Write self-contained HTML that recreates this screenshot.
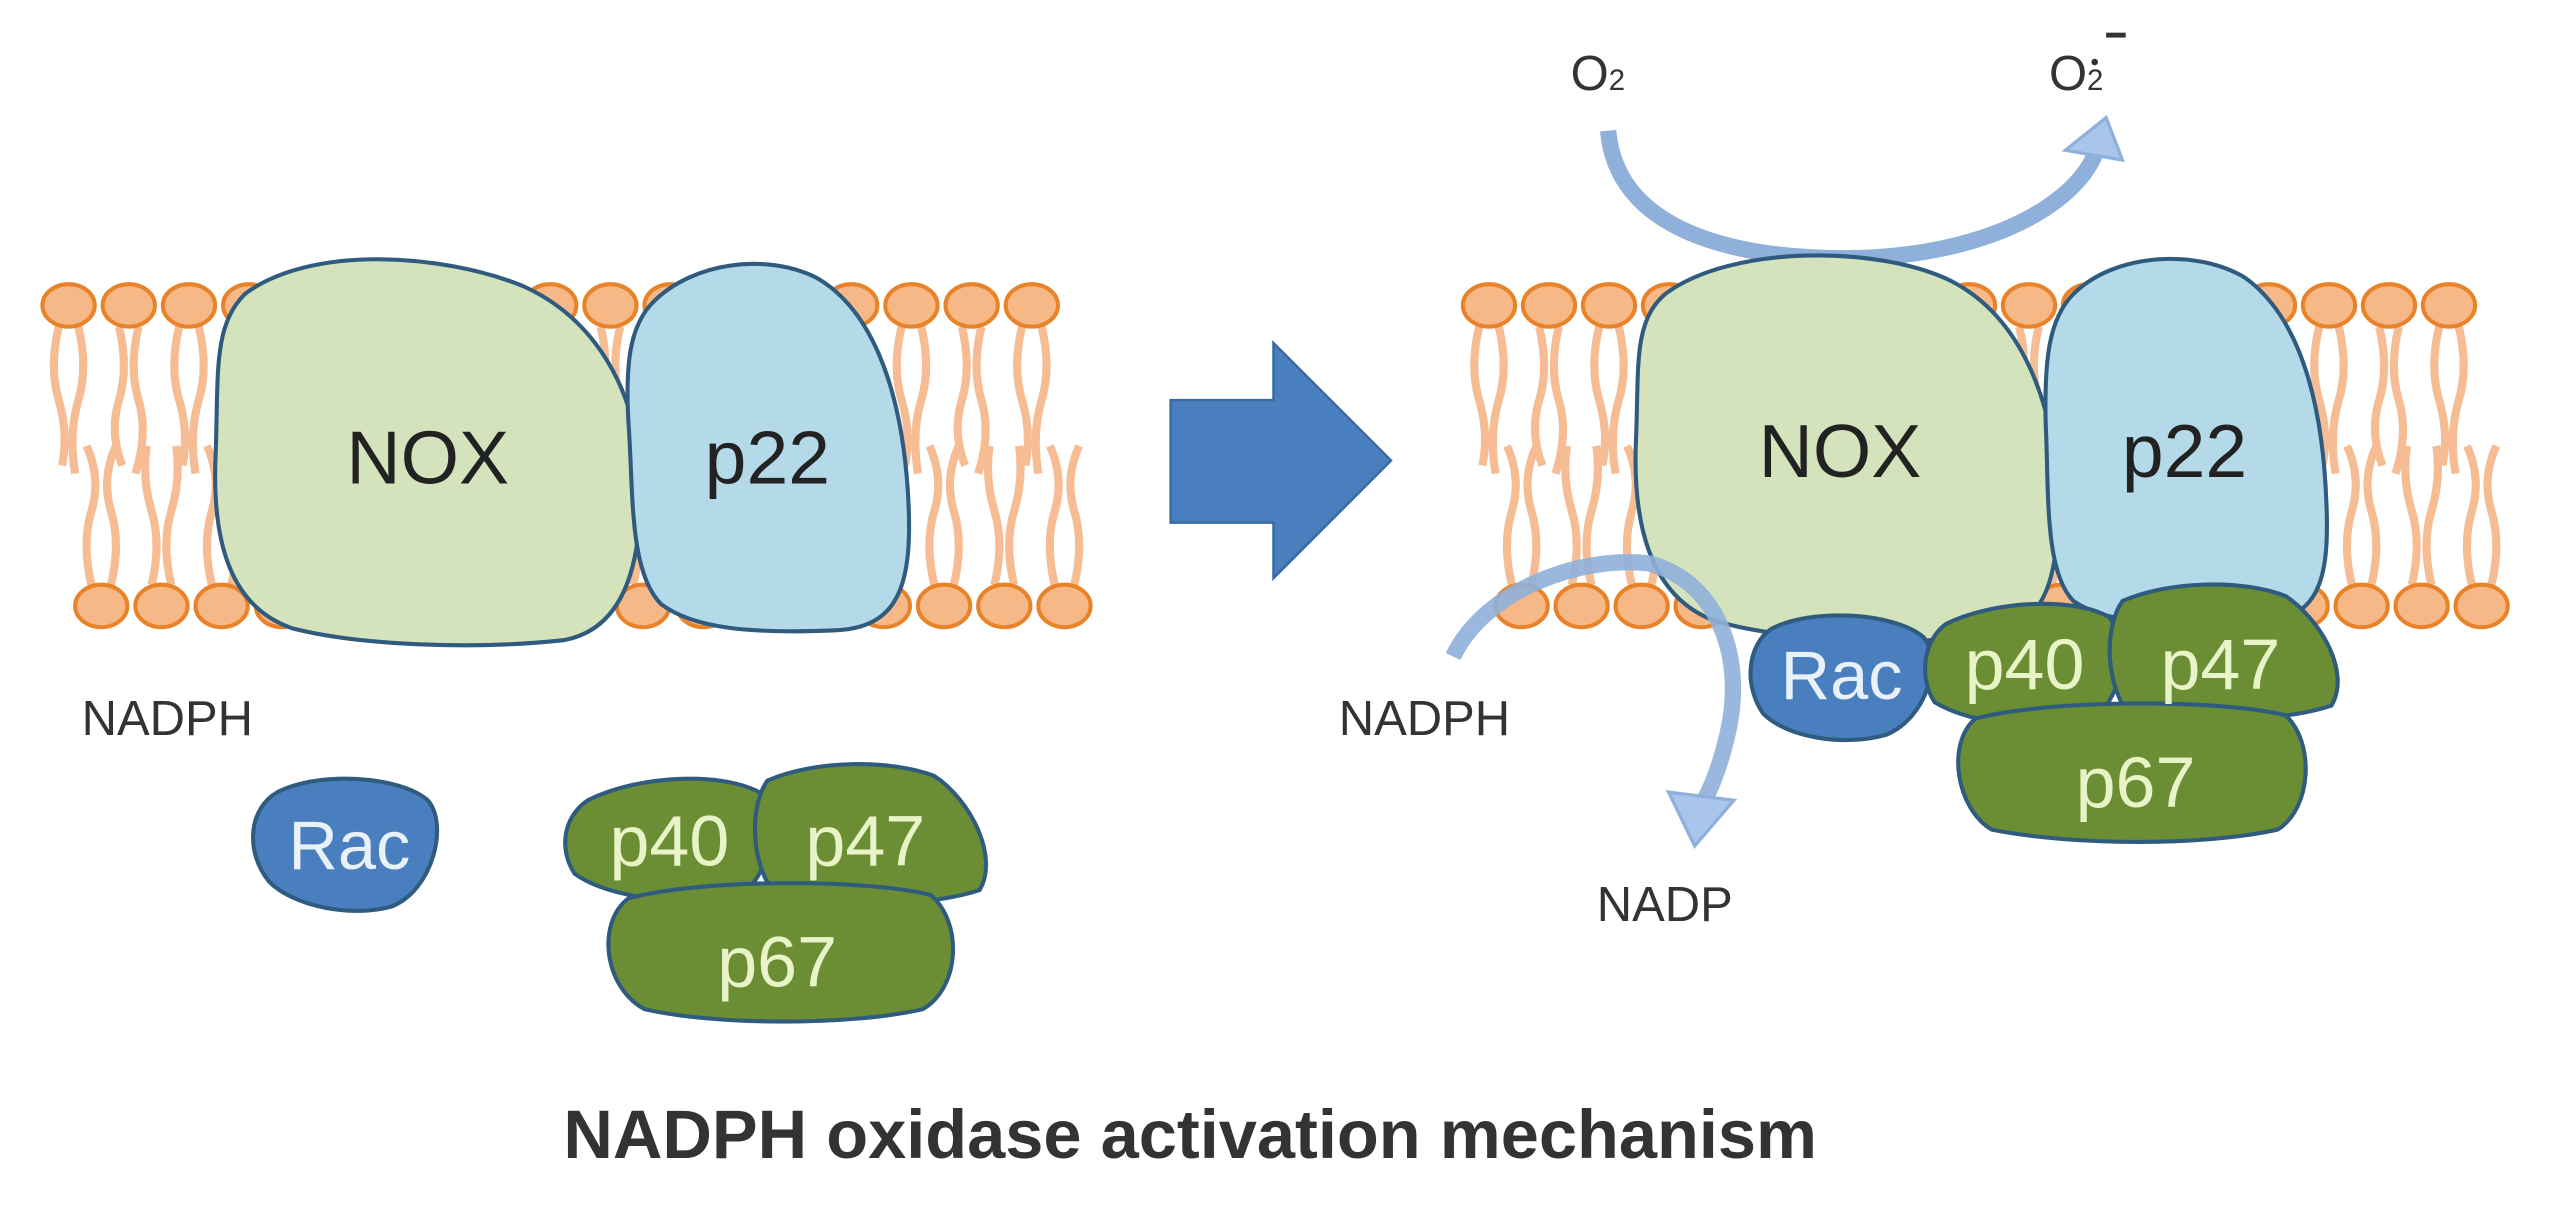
<!DOCTYPE html>
<html><head><meta charset="utf-8"><style>
html,body{margin:0;padding:0;background:#fff;}
svg{display:block;}
text{font-family:"Liberation Sans",sans-serif;}
</style></head><body>
<svg id="s" width="2560" height="1220" viewBox="0 0 1568 747" preserveAspectRatio="none" xmlns="http://www.w3.org/2000/svg">
<rect width="1568" height="747" fill="#fff"/>
<g id="mem"></g>

<!-- Left proteins -->
<path d="M150,180 C190,150 270,155 320,175 C365,195 390,240 392,290 C394,340 385,385 345,392 C290,398 220,395 180,385 C140,372 130,330 132,280 C134,230 130,200 150,180 Z" fill="#d5e3bd" stroke="#2f5b7e" stroke-width="2.5"/>
<path d="M400,185 C425,160 470,155 500,170 C535,190 552,240 556,300 C560,360 550,385 510,386 C460,388 425,385 405,370 C385,350 388,300 385,260 C383,225 385,200 400,185 Z" fill="#b4d9e8" stroke="#2f5b7e" stroke-width="2.5"/>
<text x="262" y="296" font-size="46" text-anchor="middle" fill="#222">NOX</text>
<text x="470" y="296" font-size="46" text-anchor="middle" fill="#222">p22</text>
<text x="50" y="450" font-size="30" fill="#333">NADPH</text>

<path d="M170,485 C195,472 245,475 262,490 C275,505 265,545 240,555 C215,562 180,555 165,540 C150,522 152,495 170,485 Z" fill="#4a7fbf" stroke="#2f5b7e" stroke-width="2.5"/>
<text x="214" y="532" font-size="42" text-anchor="middle" fill="#e8f0f8">Rac</text>

<path d="M360,490 C390,475 440,472 465,485 C478,500 472,540 450,550 C410,555 370,548 352,535 C342,520 345,500 360,490 Z" fill="#6b8e34" stroke="#2f5b7e" stroke-width="2.5"/>
<path d="M470,478 C500,465 545,465 572,475 C595,490 612,525 600,545 C570,555 520,555 478,550 C460,535 458,495 470,478 Z" fill="#6b8e34" stroke="#2f5b7e" stroke-width="2.5"/>
<path d="M385,550 C430,538 530,538 570,548 C590,565 588,605 565,618 C520,628 440,628 395,618 C370,605 365,565 385,550 Z" fill="#6b8e34" stroke="#2f5b7e" stroke-width="2.5"/>
<text x="410" y="530" font-size="44" text-anchor="middle" fill="#e8f4c8">p40</text>
<text x="530" y="530" font-size="44" text-anchor="middle" fill="#e8f4c8">p47</text>
<text x="476" y="604" font-size="44" text-anchor="middle" fill="#e8f4c8">p67</text>

<!-- big arrow -->
<path d="M717,245 L780,245 L780,210 L852,282 L780,354 L780,320 L717,320 Z" fill="#4a7fbf" stroke="#3a6aa5" stroke-width="1.5"/>

<!-- O2 arc -->
<path d="M985,80 C990,140 1060,160 1140,158 C1220,155 1270,125 1283,95" fill="none" stroke="#8fb0da" stroke-width="10"/>
<path d="M1265,92 L1290,72 L1300,98 Z" fill="#a9c6ea" stroke="#8fb0da" stroke-width="2"/>
<text x="962" y="55" font-size="30" fill="#333">O<tspan font-size="18">2</tspan></text>
<text x="1255" y="55" font-size="30" fill="#333">O<tspan font-size="18">2</tspan></text>
<circle cx="1283" cy="38" r="2" fill="#333"/>
<rect x="1290" y="20" width="12" height="3" fill="#333"/>

<!-- Right proteins -->
<path d="M1020,180 C1060,150 1150,150 1195,172 C1240,195 1258,250 1260,300 C1262,350 1255,385 1215,390 C1160,395 1090,392 1050,380 C1010,365 1000,320 1002,270 C1004,225 1000,197 1020,180 Z" fill="#d5e3bd" stroke="#2f5b7e" stroke-width="2.5"/>
<path d="M1270,180 C1295,155 1345,152 1375,170 C1410,195 1423,250 1425,310 C1427,360 1418,380 1380,382 C1330,384 1290,382 1270,368 C1252,350 1255,300 1253,260 C1252,220 1255,195 1270,180 Z" fill="#b4d9e8" stroke="#2f5b7e" stroke-width="2.5"/>
<text x="1127" y="292" font-size="46" text-anchor="middle" fill="#222">NOX</text>
<text x="1338" y="292" font-size="46" text-anchor="middle" fill="#222">p22</text>

<path d="M1085,385 C1110,372 1160,375 1178,390 C1190,405 1180,440 1155,450 C1130,457 1095,452 1080,437 C1068,420 1070,395 1085,385 Z" fill="#4a7fbf" stroke="#2f5b7e" stroke-width="2.5"/>
<path d="M1192,382 C1220,368 1270,365 1292,378 C1305,395 1300,432 1278,442 C1240,447 1205,442 1185,430 C1175,415 1178,392 1192,382 Z" fill="#6b8e34" stroke="#2f5b7e" stroke-width="2.5"/>
<path d="M1300,368 C1330,355 1375,355 1400,365 C1422,380 1440,412 1428,432 C1398,442 1350,442 1305,438 C1290,422 1288,385 1300,368 Z" fill="#6b8e34" stroke="#2f5b7e" stroke-width="2.5"/>
<path d="M1210,440 C1255,428 1360,428 1400,438 C1418,455 1416,495 1395,508 C1350,518 1270,518 1220,508 C1198,495 1192,455 1210,440 Z" fill="#6b8e34" stroke="#2f5b7e" stroke-width="2.5"/>
<text x="1128" y="428" font-size="42" text-anchor="middle" fill="#e8f0f8">Rac</text>
<text x="1240" y="422" font-size="44" text-anchor="middle" fill="#e8f4c8">p40</text>
<text x="1360" y="422" font-size="44" text-anchor="middle" fill="#e8f4c8">p47</text>
<text x="1308" y="494" font-size="44" text-anchor="middle" fill="#e8f4c8">p67</text>

<!-- NADPH arc -->
<path d="M890,402 C910,360 970,340 1010,345 C1050,355 1070,400 1058,450 C1052,475 1045,490 1040,495" fill="none" stroke="#8fb0da" stroke-width="10" opacity="0.9"/>
<path d="M1022,485 L1038,518 L1062,490 Z" fill="#a9c6ea" stroke="#8fb0da" stroke-width="2"/>
<text x="820" y="450" font-size="30" fill="#333">NADPH</text>
<text x="978" y="564" font-size="30" fill="#333">NADP</text>

<text x="729" y="709" font-size="42" font-weight="bold" text-anchor="middle" fill="#333">NADPH oxidase activation mechanism</text>
</svg>
<script>
(function(){
var g=document.getElementById('mem'),ns='http://www.w3.org/2000/svg',h='';
function mem(x0,x1,xb0,xb1,n){
 var st=(x1-x0)/(n-1);
 for(var i=0;i<n;i++){
  var x=x0+i*st, xb=xb0+i*st;
  var w=(i%2?6:-6);
  h+='<path d="M'+(x-6)+',200 q'+w+',25 0,45 t2,40" fill="none" stroke="#f6bd95" stroke-width="5"/>';
  h+='<path d="M'+(x+6)+',200 q'+(-w)+',25 0,45 t-2,45" fill="none" stroke="#f6bd95" stroke-width="5"/>';
  h+='<path d="M'+(xb-6)+',358 q'+w+',-25 0,-45 t-3,-40" fill="none" stroke="#f6bd95" stroke-width="5"/>';
  h+='<path d="M'+(xb+6)+',358 q'+(-w)+',-25 0,-45 t3,-40" fill="none" stroke="#f6bd95" stroke-width="5"/>';
 }
 for(var i=0;i<n;i++){
  var x=x0+i*st, xb=xb0+i*st;
  h+='<ellipse cx="'+x+'" cy="187" rx="16" ry="13" fill="#f7b887" stroke="#e8832a" stroke-width="2.5"/>';
  h+='<ellipse cx="'+xb+'" cy="371" rx="16" ry="13" fill="#f7b887" stroke="#e8832a" stroke-width="2.5"/>';
 }
}
mem(42,632,62,652,17);
mem(912,1500,932,1520,17);
g.innerHTML=h;
})();
</script>
</body></html>
